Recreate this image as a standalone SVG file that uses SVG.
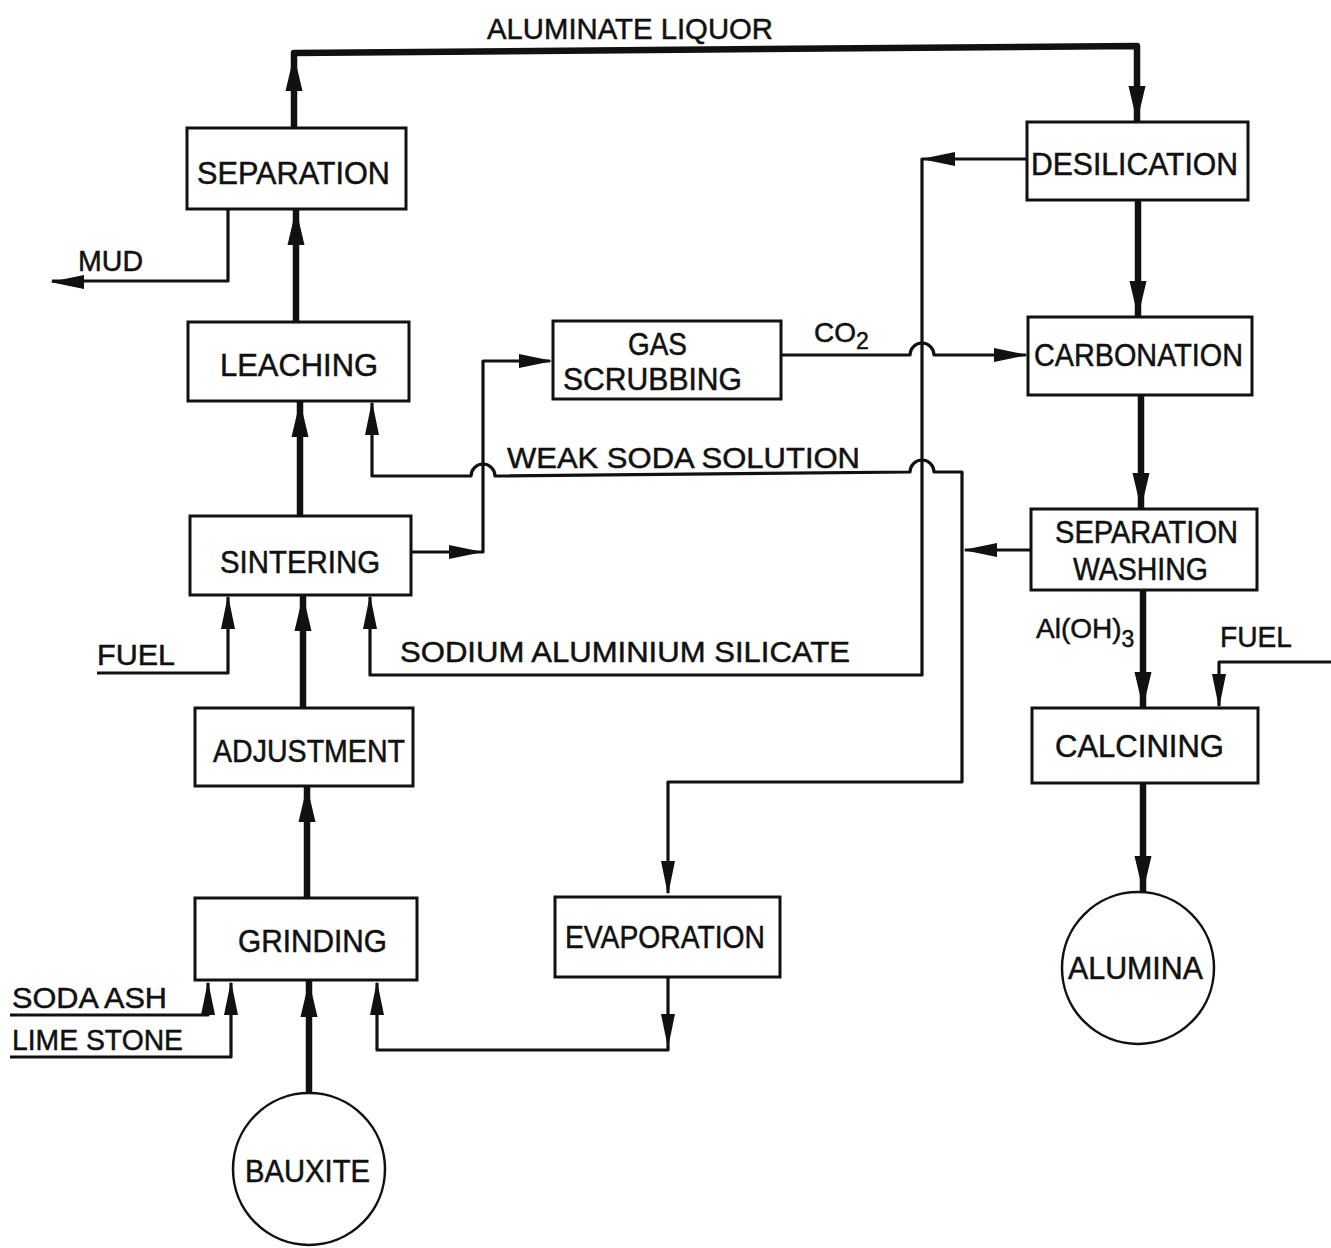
<svg xmlns="http://www.w3.org/2000/svg" xmlns:xlink="http://www.w3.org/1999/xlink" width="1331" height="1248" viewBox="0 0 1331 1248">
<style>
.box{fill:#fff;stroke:#111;stroke-width:3}
.circ{fill:#fff;stroke:#111;stroke-width:2.5}
.thin{fill:none;stroke:#111;stroke-width:3.2;stroke-linejoin:round}
.bold{fill:none;stroke:#111;stroke-width:6.5;stroke-linejoin:round}
text{font-family:"Liberation Sans","DejaVu Sans",Arial,sans-serif;font-size:31px;fill:#111;stroke:#111;stroke-width:0.5}
.lbl{font-size:30px}
.chem{font-size:28px}
.sub{font-size:23px}
</style>
<defs>
<path id="ah" d="M0,0 L-34,-7 L-34,7 Z" fill="#111"/>
<path id="ahb" d="M0,0 L-36,-8.5 L-36,8.5 Z" fill="#111"/>
</defs>
<rect width="1331" height="1248" fill="#fff"/>

<g id="connectors">
<path class="bold" d="M309,1093 V981"/>
<path class="bold" d="M307,898 V786"/>
<path class="bold" d="M303,708 V595"/>
<path class="bold" d="M300,517 V401"/>
<path class="bold" d="M296,323 V209"/>
<path class="bold" d="M294,128 V53 L1137,46 V122"/>
<path class="bold" d="M1138,200 V317"/>
<path class="bold" d="M1141,395 V509"/>
<path class="bold" d="M1143,590 V708"/>
<path class="bold" d="M1143,783 V892"/>
<use href="#ahb" transform="translate(309,981) rotate(-90)"/>
<use href="#ahb" transform="translate(307,786) rotate(-90)"/>
<use href="#ahb" transform="translate(303,595) rotate(-90)"/>
<use href="#ahb" transform="translate(300,401) rotate(-90)"/>
<use href="#ahb" transform="translate(296,209) rotate(-90)"/>
<use href="#ahb" transform="translate(294,55) rotate(-90)"/>
<use href="#ahb" transform="translate(1137,122) rotate(90)"/>
<use href="#ahb" transform="translate(1138,317) rotate(90)"/>
<use href="#ahb" transform="translate(1141,509) rotate(90)"/>
<use href="#ahb" transform="translate(1143,708) rotate(90)"/>
<use href="#ahb" transform="translate(1143,892) rotate(90)"/>

<path class="thin" d="M228,209 V281 H52"/>
<use href="#ah" transform="translate(50,282) rotate(180)"/>
<path class="thin" d="M97,673 H228 V597"/>
<use href="#ah" transform="translate(228,595) rotate(-90)"/>
<path class="thin" d="M10,1015 H208 V983"/>
<use href="#ah" transform="translate(208,981) rotate(-90)"/>
<path class="thin" d="M10,1057 H231 V983"/>
<use href="#ah" transform="translate(231,981) rotate(-90)"/>
<path class="thin" d="M668,977 V1050 H377 V983"/>
<use href="#ah" transform="translate(377,981) rotate(-90)"/>
<use href="#ah" transform="translate(668,1048) rotate(90)"/>
<path class="thin" d="M412,552 H483 V361 H550"/>
<use href="#ah" transform="translate(483,552) rotate(0)"/>
<use href="#ah" transform="translate(553,361) rotate(0)"/>
<path class="thin" d="M781,355 H910 A12,12 0 0 1 934,355 H1026"/>
<use href="#ah" transform="translate(1028,355) rotate(0)"/>
<path class="thin" d="M1027,159 H922 V675 H370 V597"/>
<use href="#ah" transform="translate(921,159) rotate(180)"/>
<use href="#ah" transform="translate(370,595) rotate(-90)"/>
<path class="thin" d="M372,403 V476 H471 A12,12 0 0 1 495,476 L910,472 A12,12 0 0 1 934,472 H962 V782 H668 V893"/>
<use href="#ah" transform="translate(372,401) rotate(-90)"/>
<use href="#ah" transform="translate(668,895) rotate(90)"/>
<path class="thin" d="M1031,550 H965"/>
<use href="#ah" transform="translate(963,550) rotate(180)"/>
<path class="thin" d="M1331,662 H1219 V706"/>
<use href="#ah" transform="translate(1219,708) rotate(90)"/>
</g>

<g id="separation"><rect class="box" x="187" y="128" width="219" height="81"/><text x="197" y="184" textLength="193" lengthAdjust="spacingAndGlyphs">SEPARATION</text></g>
<g id="leaching"><rect class="box" x="188" y="322" width="221" height="79"/><text x="220" y="376" textLength="158" lengthAdjust="spacingAndGlyphs">LEACHING</text></g>
<g id="sintering"><rect class="box" x="190" y="516" width="221" height="79"/><text x="220" y="573" textLength="160" lengthAdjust="spacingAndGlyphs">SINTERING</text></g>
<g id="adjustment"><rect class="box" x="195" y="708" width="218" height="78"/><text x="213" y="762" textLength="192" lengthAdjust="spacingAndGlyphs">ADJUSTMENT</text></g>
<g id="grinding"><rect class="box" x="195" y="898" width="222" height="82"/><text x="238" y="952" textLength="149" lengthAdjust="spacingAndGlyphs">GRINDING</text></g>
<g id="bauxite"><circle class="circ" cx="309" cy="1169" r="76"/><text x="245" y="1182" textLength="125" lengthAdjust="spacingAndGlyphs">BAUXITE</text></g>
<g id="gas-scrubbing"><rect class="box" x="553" y="321" width="228" height="78"/><text x="628" y="355" textLength="59" lengthAdjust="spacingAndGlyphs">GAS</text><text x="563" y="390" textLength="179" lengthAdjust="spacingAndGlyphs">SCRUBBING</text></g>
<g id="evaporation"><rect class="box" x="555" y="897" width="225" height="80"/><text x="565" y="948" textLength="200" lengthAdjust="spacingAndGlyphs">EVAPORATION</text></g>
<g id="desilication"><rect class="box" x="1027" y="122" width="221" height="78"/><text x="1031" y="175" textLength="207" lengthAdjust="spacingAndGlyphs">DESILICATION</text></g>
<g id="carbonation"><rect class="box" x="1028" y="317" width="224" height="78"/><text x="1034" y="366" textLength="209" lengthAdjust="spacingAndGlyphs">CARBONATION</text></g>
<g id="separation-washing"><rect class="box" x="1031" y="509" width="226" height="81"/><text x="1055" y="543" textLength="183" lengthAdjust="spacingAndGlyphs">SEPARATION</text><text x="1073" y="580" textLength="135" lengthAdjust="spacingAndGlyphs">WASHING</text></g>
<g id="calcining"><rect class="box" x="1032" y="708" width="226" height="75"/><text x="1055" y="757" textLength="169" lengthAdjust="spacingAndGlyphs">CALCINING</text></g>
<g id="alumina"><circle class="circ" cx="1138" cy="968" r="76"/><text x="1068" y="979" textLength="135" lengthAdjust="spacingAndGlyphs">ALUMINA</text></g>

<g id="labels">
<text class="lbl" x="487" y="39" textLength="286" lengthAdjust="spacingAndGlyphs">ALUMINATE LIQUOR</text>
<text class="lbl" x="78" y="271" textLength="65" lengthAdjust="spacingAndGlyphs">MUD</text>
<text class="chem" x="814" y="342">CO<tspan class="sub" dy="7">2</tspan></text>
<text class="chem" x="1036" y="638">Al(OH)<tspan class="sub" dy="9">3</tspan></text>
<text class="lbl" x="507" y="468" textLength="353" lengthAdjust="spacingAndGlyphs">WEAK SODA SOLUTION</text>
<text class="lbl" x="97" y="665" textLength="78" lengthAdjust="spacingAndGlyphs">FUEL</text>
<text class="lbl" x="400" y="662" textLength="450" lengthAdjust="spacingAndGlyphs">SODIUM ALUMINIUM SILICATE</text>
<text class="lbl" x="12" y="1008" textLength="155" lengthAdjust="spacingAndGlyphs">SODA ASH</text>
<text class="lbl" x="12" y="1050" textLength="171" lengthAdjust="spacingAndGlyphs">LIME STONE</text>
<text class="lbl" x="1220" y="647" textLength="72" lengthAdjust="spacingAndGlyphs">FUEL</text>
</g>
</svg>
